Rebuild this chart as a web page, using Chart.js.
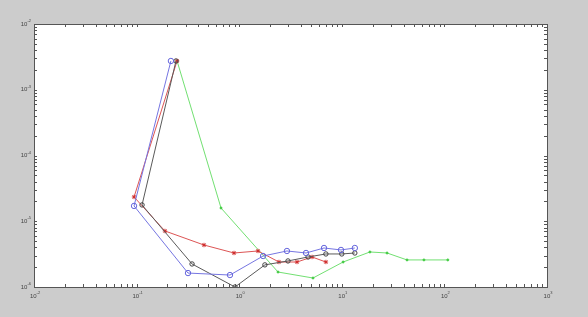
<!DOCTYPE html>
<html lang="en">
<head>
  <meta charset="UTF-8" />
  <title>Log-log error plot</title>
  <script src="https://cdn.jsdelivr.net/npm/chart.js"></script>
  <style>
    html, body { margin: 0; padding: 0; background: #cccccc; }
    #wrap { width: 588px; height: 317px; }
  </style>
</head>
<body>
  <div id="wrap"><canvas id="plot" width="588" height="317"></canvas></div>

  <script>
    // values (x, y pairs in drawing order)
    const blueX  = [0.216, 0.0944, 0.317, 0.813, 1.71, 2.92, 4.48, 6.71, 9.82, 13.4];
    const blueY  = [2.74e-3, 1.71e-5, 1.63e-6, 1.52e-6, 2.96e-6, 3.53e-6, 3.29e-6, 3.92e-6, 3.66e-6, 3.92e-6];
    const blackX = [0.242, 0.113, 0.347, 0.91, 1.78, 2.99, 4.69, 7.0, 10.0, 13.4];
    const blackY = [2.74e-3, 1.77e-5, 2.24e-6, 1.0e-6, 2.17e-6, 2.49e-6, 2.86e-6, 3.18e-6, 3.18e-6, 3.29e-6];
    const redX   = [0.248, 0.0944, 0.189, 0.454, 0.89, 1.525, 2.44, 3.66, 5.13, 7.0];
    const redY   = [2.74e-3, 2.34e-5, 7.11e-6, 4.35e-6, 3.29e-6, 3.53e-6, 2.4e-6, 2.4e-6, 2.86e-6, 2.4e-6];
    const greenX = [0.248, 0.665, 2.39, 5.24, 10.3, 18.8, 27.6, 43.2, 63.2, 108];
    const greenY = [2.74e-3, 1.59e-5, 1.69e-6, 1.37e-6, 2.4e-6, 3.41e-6, 3.29e-6, 2.58e-6, 2.58e-6, 2.58e-6];

    // decade ticks and their exponent labels
    const xDecades = [0.01, 0.1, 1, 10, 100, 1000];
    const xExponents = ['-2', '-1', '0', '1', '2', '3'];
    const yDecades = [1e-6, 1e-5, 1e-4, 1e-3, 1e-2];
    const yExponents = ['-6', '-5', '-4', '-3', '-2'];

    const pairs = (xs, ys) => xs.map((x, i) => ({ x: x, y: ys[i] }));

    // gray figure, white axes box
    const backdrop = {
      id: 'backdrop',
      beforeDraw(chart) {
        const { ctx, chartArea: a } = chart;
        ctx.save();
        ctx.fillStyle = '#cccccc';
        ctx.fillRect(0, 0, chart.width, chart.height);
        ctx.fillStyle = '#ffffff';
        ctx.fillRect(a.left, a.top, a.right - a.left, a.bottom - a.top);
        ctx.restore();
      }
    };

    // matlab style box, inward ticks and 10^n labels
    const matlabAxes = {
      id: 'matlabAxes',
      afterDraw(chart) {
        const { ctx, chartArea: a } = chart;
        const xs = chart.scales.x, ys = chart.scales.y;
        const len = 3;
        ctx.save();
        ctx.strokeStyle = '#555555';
        ctx.lineWidth = 1;
        ctx.strokeRect(Math.round(a.left) + 0.5, Math.round(a.top) + 0.5,
          Math.round(a.right - a.left), Math.round(a.bottom - a.top));

        ctx.beginPath();
        xDecades.forEach((d, i) => {
          for (let m = 1; m < 10; m++) {
            if (i === xDecades.length - 1 && m > 1) break;
            const px = Math.round(xs.getPixelForValue(d * m)) + 0.5;
            ctx.moveTo(px, a.bottom); ctx.lineTo(px, a.bottom - len);
            ctx.moveTo(px, a.top); ctx.lineTo(px, a.top + len);
          }
        });
        yDecades.forEach((d, i) => {
          for (let m = 1; m < 10; m++) {
            if (i === yDecades.length - 1 && m > 1) break;
            const py = Math.round(ys.getPixelForValue(d * m)) + 0.5;
            ctx.moveTo(a.left, py); ctx.lineTo(a.left + len, py);
            ctx.moveTo(a.right, py); ctx.lineTo(a.right - len, py);
          }
        });
        ctx.stroke();

        ctx.fillStyle = '#444444';
        ctx.textBaseline = 'middle';
        const big = '6px "Liberation Sans", Arial, sans-serif';
        const small = '4px "Liberation Sans", Arial, sans-serif';
        xDecades.forEach((d, i) => {
          const px = xs.getPixelForValue(d);
          ctx.font = big;
          const w1 = ctx.measureText('10').width;
          ctx.font = small;
          const w2 = ctx.measureText(xExponents[i]).width;
          const x0 = px - (w1 + w2) / 2 + 1;
          ctx.textAlign = 'left';
          ctx.font = big;
          ctx.fillText('10', x0, a.bottom + 9);
          ctx.font = small;
          ctx.fillText(xExponents[i], x0 + w1, a.bottom + 6);
        });
        yDecades.forEach((d, i) => {
          const py = ys.getPixelForValue(d);
          ctx.font = small;
          const w2 = ctx.measureText(yExponents[i]).width;
          ctx.textAlign = 'right';
          ctx.fillText(yExponents[i], a.left - 3, py - 3);
          ctx.font = big;
          ctx.fillText('10', a.left - 3 - w2, py);
        });
        ctx.restore();
      }
    };

    new Chart(document.getElementById('plot'), {
      type: 'line',
      data: {
        datasets: [
          { data: pairs(blueX, blueY), borderColor: '#7676e2', pointStyle: 'circle',
            pointRadius: 2.7, pointBorderColor: '#6666dd', pointBackgroundColor: 'rgba(0,0,0,0)' },
          { data: pairs(blackX, blackY), borderColor: '#5a5a5a', pointStyle: 'circle',
            pointRadius: 2.2, pointBorderColor: '#444444', pointBackgroundColor: 'rgba(0,0,0,0)' },
          { data: pairs(redX, redY), borderColor: '#dd5555', pointStyle: 'star',
            pointRadius: 2.2, pointBorderColor: '#d03030', pointBackgroundColor: '#d03030' },
          { data: pairs(greenX, greenY), borderColor: '#72e072', pointStyle: 'circle',
            pointRadius: 1, pointBorderColor: '#44cc44', pointBackgroundColor: '#44cc44' }
        ]
      },
      options: {
        responsive: false,
        animation: false,
        layout: { padding: { left: 34, top: 24, right: 41, bottom: 30 } },
        elements: { line: { borderWidth: 1, tension: 0 }, point: { borderWidth: 1, hoverRadius: 3 } },
        plugins: { legend: { display: false }, tooltip: { enabled: false } },
        scales: {
          x: { type: 'logarithmic', min: 0.01, max: 1000, display: false },
          y: { type: 'logarithmic', min: 1e-6, max: 1e-2, display: false }
        }
      },
      plugins: [backdrop, matlabAxes]
    });
  </script>
</body>
</html>
